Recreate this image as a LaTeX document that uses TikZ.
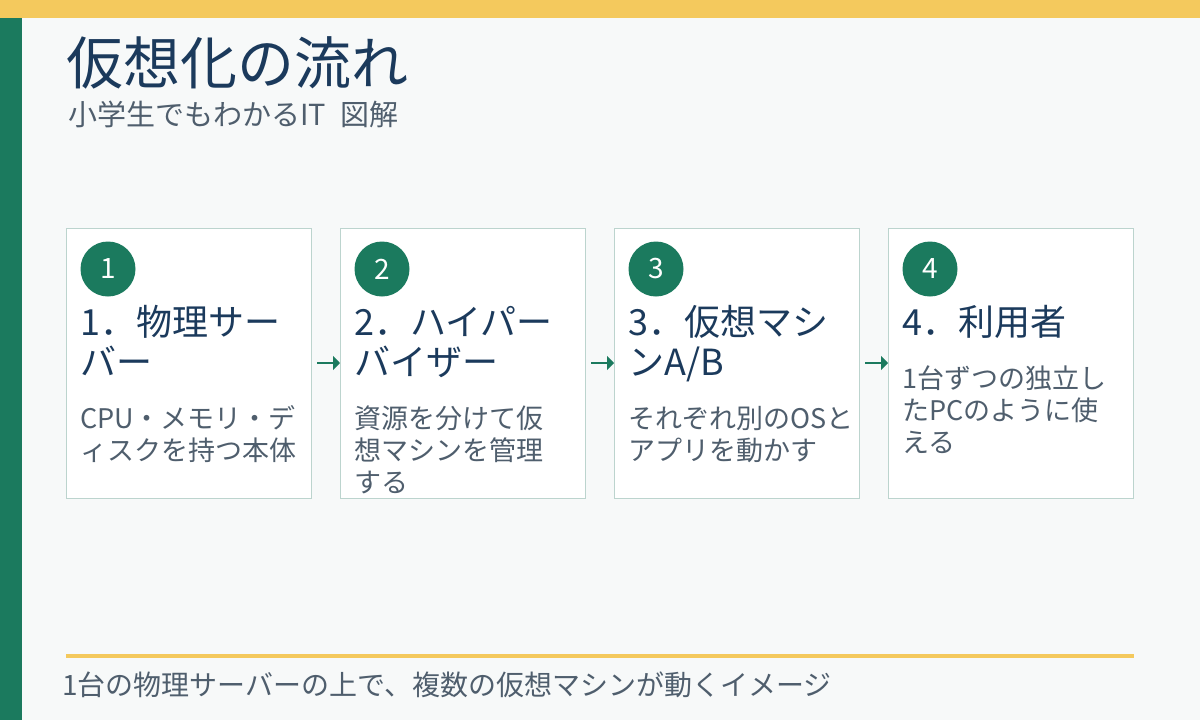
\documentclass[tikz,border=0pt]{standalone}
\usepackage{fontspec}
\setmainfont{Noto Sans CJK JP}
\usetikzlibrary{arrows.meta}

\definecolor{paper}{HTML}{F7F9F9}
\definecolor{sunbar}{HTML}{F4C95D}
\definecolor{accent}{HTML}{1B7A5E}
\definecolor{navy}{HTML}{1B3A5C}
\definecolor{slate}{HTML}{4F5E6D}
\definecolor{cardline}{HTML}{BCD4CE}

\tikzset{
  stepcard/.style={draw=cardline, fill=white, line width=1pt, minimum width=245pt,
    minimum height=270pt, inner sep=0pt, outer sep=0pt, anchor=north west},
  badge/.style={circle, fill=accent, text=white, minimum size=55pt, inner sep=0pt,
    font=\fontsize{28}{28}\selectfont},
  headtext/.style={anchor=base west, text width=240pt, align=left, inner sep=0pt,
    text=navy, font=\fontsize{36}{40}\selectfont},
  bodytext/.style={anchor=base west, text width=240pt, align=left, inner sep=0pt,
    text=slate, font=\fontsize{27}{32}\selectfont},
  flow/.style={-{Triangle[length=7pt,width=14pt]}, line width=1.5pt, draw=accent},
}

\begin{document}
\begin{tikzpicture}[x=1pt,y=-1pt]
% Page and frame bars
\fill[paper] (0,0) rectangle (1200,720);
\useasboundingbox (0,0) rectangle (1200,720);
\fill[sunbar] (0,0) rectangle (1200,18);
\fill[accent] (0,18) rectangle (22,720);

% Title block
\node[anchor=base west, inner sep=0pt, text=navy, font=\fontsize{57}{57}\selectfont] (title) at (66,84) {仮想化の流れ};
\node[anchor=base west, inner sep=0pt, text=slate, font=\fontsize{29}{29}\selectfont] (subtitle) at (68,125) {小学生でもわかるIT\enspace 図解};

% Step cards
\foreach \i/\x/\head/\body/\by in {
  1/66/{1．物理サー\\バー}/{CPU・メモリ・デ\\ィスクを持つ本体}/428,
  2/340/{2．ハイパー\\バイザー}/{資源を分けて仮\\想マシンを管理\\する}/428,
  3/614/{3．仮想マシ\\ンA/B}/{それぞれ別のOSと\\アプリを動かす}/428,
  4/888/{4．利用者}/{1台ずつの独立し\\たPCのように使\\える}/388} {
  \node[stepcard] (card\i) at (\x,228) {};
  \node[badge] (badge\i) at ([shift={(42,41)}]card\i.north west) {\i};
  \node[headtext] (head\i) at ([shift={(14,107)}]card\i.north west) {\head};
  \node[bodytext] (body\i) at (\x+14,\by) {\body};
}

% Flow arrows
\foreach \a/\b in {1/2,2/3,3/4}
  \draw[flow] ([xshift=6pt]card\a.east) -- (card\b.west);

% Footer
\fill[sunbar] (66,654) rectangle (1134,658);
\node[anchor=base west, inner sep=0pt, text=slate, font=\fontsize{28}{28}\selectfont] (footnote) at (62,695) {1台の物理サーバーの上で、複数の仮想マシンが動くイメージ};
\end{tikzpicture}
\end{document}
